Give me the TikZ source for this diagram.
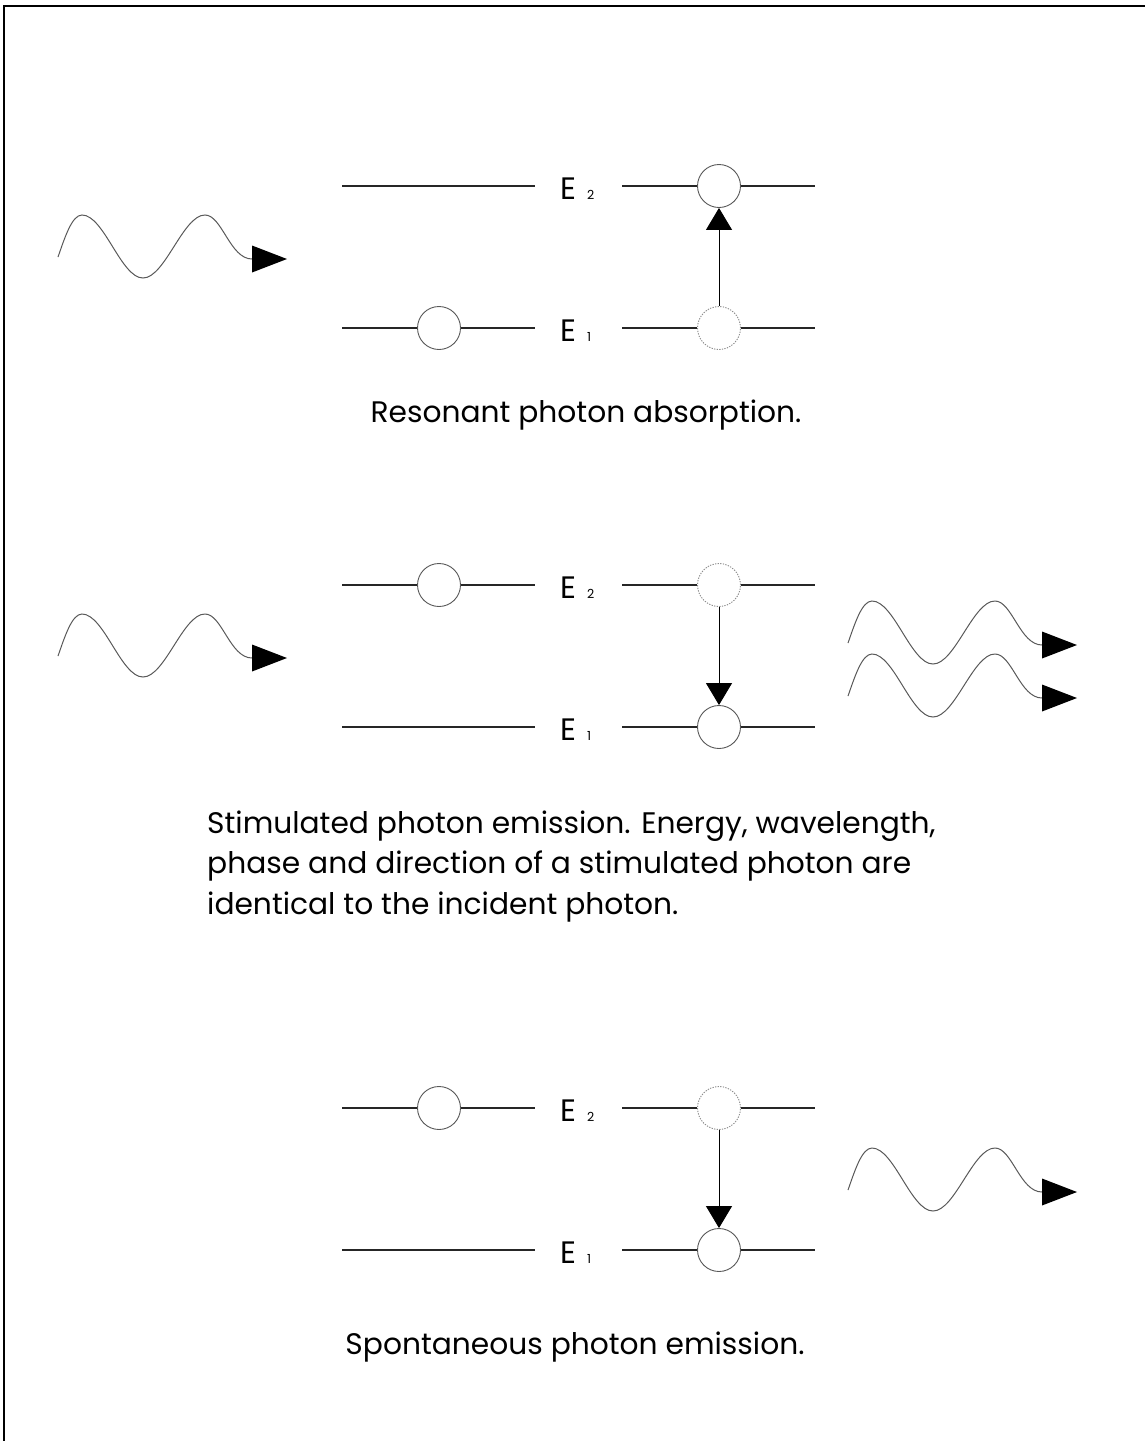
\documentclass[tikz,border=0pt]{standalone}
\usepackage{fontspec}
\setmainfont{Poppins}
\usetikzlibrary{arrows.meta}

\tikzset{
  level/.style={line width=1.1pt, draw=black!85},
  atom/.style={circle, draw=black!65, line width=0.9pt, minimum size=43pt,
               inner sep=0pt, fill=white},
  vacant/.style={atom, draw=black!45, dash pattern=on 1.3pt off 1.3pt},
  jump/.style={line width=1pt, draw=black,
               -{Triangle[length=22pt,width=26pt]}},
  wave/.style={line width=1pt, draw=black!65},
  elabel/.style={anchor=base west, inner sep=0pt,
                 font=\fontsize{31}{36}\selectfont},
  caption/.style={inner sep=0pt, align=left,
                  font=\fontsize{29.7}{40.5}\selectfont},
  photon/.pic={
    \draw[wave] (-194,-2) .. controls (-187,-22) and (-180,-44) .. (-170,-44)
                .. controls (-148,-44) and (-131,19) .. (-109,19)
                .. controls (-87,19) and (-69,-44) .. (-47,-44)
                .. controls (-30,-44) and (-22,0) .. (0,0);
    \fill (0,-13.5) -- (35,0) -- (0,13.5) -- cycle;
  }
}

\newcommand{\elevel}[1]{\makebox[27pt][l]{E}{\fontsize{12.5}{12.5}\selectfont #1}}

\begin{document}
\begin{tikzpicture}[x=1pt, y=-1pt]
\useasboundingbox (0,0) rectangle (1145,1441);

% frame (top and left edges)
\draw[line width=2pt] (1145,6) -- (4,6) -- (4,1441);

% ---------- absorption ----------
\coordinate (a2l) at (342,186); \coordinate (a2m) at (535,186);
\coordinate (a2r) at (622,186); \coordinate (a2e) at (815,186);
\coordinate (a1l) at (342,328); \coordinate (a1m) at (535,328);
\coordinate (a1r) at (622,328); \coordinate (a1e) at (815,328);
\node[atom]   (a2c)  at (719,186) {};
\node[atom]   (a1p)  at (439,328) {};
\node[vacant] (a1c)  at (719,328) {};
\draw[level] (a2l) -- (a2m);
\draw[level] (a2r) -- (a2c) -- (a2e);
\draw[level] (a1l) -- (a1p) -- (a1m);
\draw[level] (a1r) -- (a1c) -- (a1e);
\draw[jump] (a1c) -- (a2c);
\node[elabel] (aE2) at (560,199) {\elevel{2}};
\node[elabel] (aE1) at (560,341) {\elevel{1}};
\pic at (252,259) {photon};
\node[caption, anchor=base] (acap) at (586,422) {Resonant photon absorption.};

% ---------- stimulated emission ----------
\coordinate (b2l) at (342,585); \coordinate (b2m) at (535,585);
\coordinate (b2r) at (622,585); \coordinate (b2e) at (815,585);
\coordinate (b1l) at (342,727); \coordinate (b1m) at (535,727);
\coordinate (b1r) at (622,727); \coordinate (b1e) at (815,727);
\node[atom]   (b2p) at (439,585) {};
\node[vacant] (b2c) at (719,585) {};
\node[atom]   (b1c) at (719,727) {};
\draw[level] (b2l) -- (b2p) -- (b2m);
\draw[level] (b2r) -- (b2c) -- (b2e);
\draw[level] (b1l) -- (b1m);
\draw[level] (b1r) -- (b1c) -- (b1e);
\draw[jump] (b2c) -- (b1c);
\node[elabel] (bE2) at (560,598) {\elevel{2}};
\node[elabel] (bE1) at (560,740) {\elevel{1}};
\pic at (252,658) {photon};
\pic at (1042,645) {photon};
\pic at (1042,698) {photon};
\node[caption, anchor=base west] (bcap) at (207,914)
  {Stimulated photon emission. Energy, wavelength,\\
   phase and direction of a stimulated photon are\\
   identical to the incident photon.};

% ---------- spontaneous emission ----------
\coordinate (c2l) at (342,1108); \coordinate (c2m) at (535,1108);
\coordinate (c2r) at (622,1108); \coordinate (c2e) at (815,1108);
\coordinate (c1l) at (342,1250); \coordinate (c1m) at (535,1250);
\coordinate (c1r) at (622,1250); \coordinate (c1e) at (815,1250);
\node[atom]   (c2p) at (439,1108) {};
\node[vacant] (c2c) at (719,1108) {};
\node[atom]   (c1c) at (719,1250) {};
\draw[level] (c2l) -- (c2p) -- (c2m);
\draw[level] (c2r) -- (c2c) -- (c2e);
\draw[level] (c1l) -- (c1m);
\draw[level] (c1r) -- (c1c) -- (c1e);
\draw[jump] (c2c) -- (c1c);
\node[elabel] (cE2) at (560,1121) {\elevel{2}};
\node[elabel] (cE1) at (560,1263) {\elevel{1}};
\pic at (1042,1192) {photon};
\node[caption, anchor=base] (ccap) at (575,1354) {Spontaneous photon emission.};
\end{tikzpicture}
\end{document}
